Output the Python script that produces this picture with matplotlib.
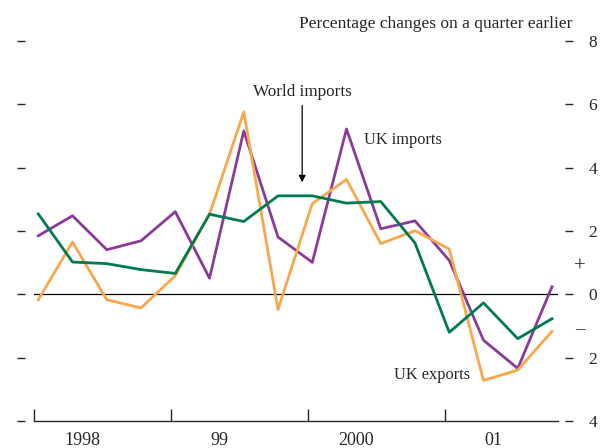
import numpy as np
import matplotlib.pyplot as plt

plt.rcParams["font.family"] = ["Liberation Serif", "DejaVu Serif"]

# quarterly data 1998 Q1 .. 2001 Q4, % change on a quarter earlier
YEARS = ["1998", "99", "2000", "01"]
UK_IMPORTS = [1.85, 2.48, 1.41, 1.69, 2.61, 0.51, 5.16, 1.81,
              1.01, 5.22, 2.07, 2.32, 1.07, -1.45, -2.34, 0.24]
UK_EXPORTS = [-0.17, 1.65, -0.17, -0.43, 0.59, 2.53, 5.76, -0.48,
              2.86, 3.63, 1.60, 2.01, 1.43, -2.72, -2.39, -1.17]
WORLD_IMPORTS = [2.54, 1.02, 0.97, 0.78, 0.66, 2.53, 2.30, 3.11,
                 3.11, 2.88, 2.93, 1.62, -1.20, -0.27, -1.40, -0.77]
YTICKS = [8, 6, 4, 2, 0, -2, -4]
YTICKLABELS = ["8", "6", "4", "2", "0", "2", "4"]

PURPLE = "#8a3b97"
ORANGE = "#f9a74c"
GREEN = "#007a4e"
INK = "#262626"


def main():
    fig = plt.figure(figsize=(6.0, 4.48), dpi=100)
    ax = fig.add_axes([34 / 600, 27 / 448, 524 / 600, 380 / 448])

    x = np.arange(len(UK_IMPORTS)) + 0.125
    ax.plot(x, UK_IMPORTS, color=PURPLE, lw=2.0, zorder=3)
    ax.plot(x, UK_EXPORTS, color=ORANGE, lw=2.0, zorder=4)
    ax.plot(x, WORLD_IMPORTS, color=GREEN, lw=2.0, zorder=5)
    ax.axhline(0, color="black", lw=0.9, zorder=2)

    ax.set_xlim(0, 15.3)
    ax.set_ylim(-4, 8)

    # y ticks: bare dashes left, dashes + labels right, both detached from plot
    for s in ["top", "left", "right"]:
        ax.spines[s].set_visible(False)
    ax.spines["left"].set_position(("outward", 6.5))
    ax.spines["right"].set_position(("outward", 5))
    ax.spines["bottom"].set_linewidth(1.0)
    ax.spines["bottom"].set_color(INK)
    ax.set_yticks(YTICKS)
    ax.set_yticklabels(YTICKLABELS)
    ax.tick_params(axis="y", which="both", left=True, right=True,
                   labelleft=False, labelright=True, direction="out",
                   length=5.8, width=1.0, pad=11, labelsize=12.5,
                   colors=INK)

    # year boundaries: ticks pointing up from the bottom axis
    ax.set_xticks([0, 4, 8, 12])
    ax.set_xticklabels([])
    ax.tick_params(axis="x", direction="in", length=8.5, width=1.0, colors=INK)
    for k, yr in enumerate(YEARS):
        ax.text(4 * k + 1.4, -4.6, yr, ha="center", va="center",
                fontsize=13, color=INK, clip_on=False)

    ax.text(1.042, 0.85, "+", transform=ax.get_yaxis_transform(),
            ha="center", va="center", fontsize=15, color=INK, clip_on=False)
    ax.text(1.042, -1.1, "\u2013", transform=ax.get_yaxis_transform(),
            ha="center", va="center", fontsize=14, color=INK, clip_on=False)

    ax.text(1.028, 8.55, "Percentage changes on a quarter earlier",
            transform=ax.get_yaxis_transform(), ha="right", va="center",
            fontsize=12.5, color=INK, clip_on=False)
    ax.text(7.85, 6.38, "World imports", ha="center", va="center",
            fontsize=12.3, color=INK)
    ax.annotate("", xy=(7.83, 3.45), xytext=(7.83, 6.05),
                arrowprops=dict(arrowstyle="-|>", color="black", lw=0.9,
                                mutation_scale=10))
    ax.text(9.65, 4.88, "UK imports", ha="left", va="center",
            fontsize=11.8, color=INK)
    ax.text(10.5, -2.55, "UK exports", ha="left", va="center",
            fontsize=11.8, color=INK)

    fig.savefig("out.png", dpi=100)
    plt.close(fig)


if __name__ == "__main__":
    main()
